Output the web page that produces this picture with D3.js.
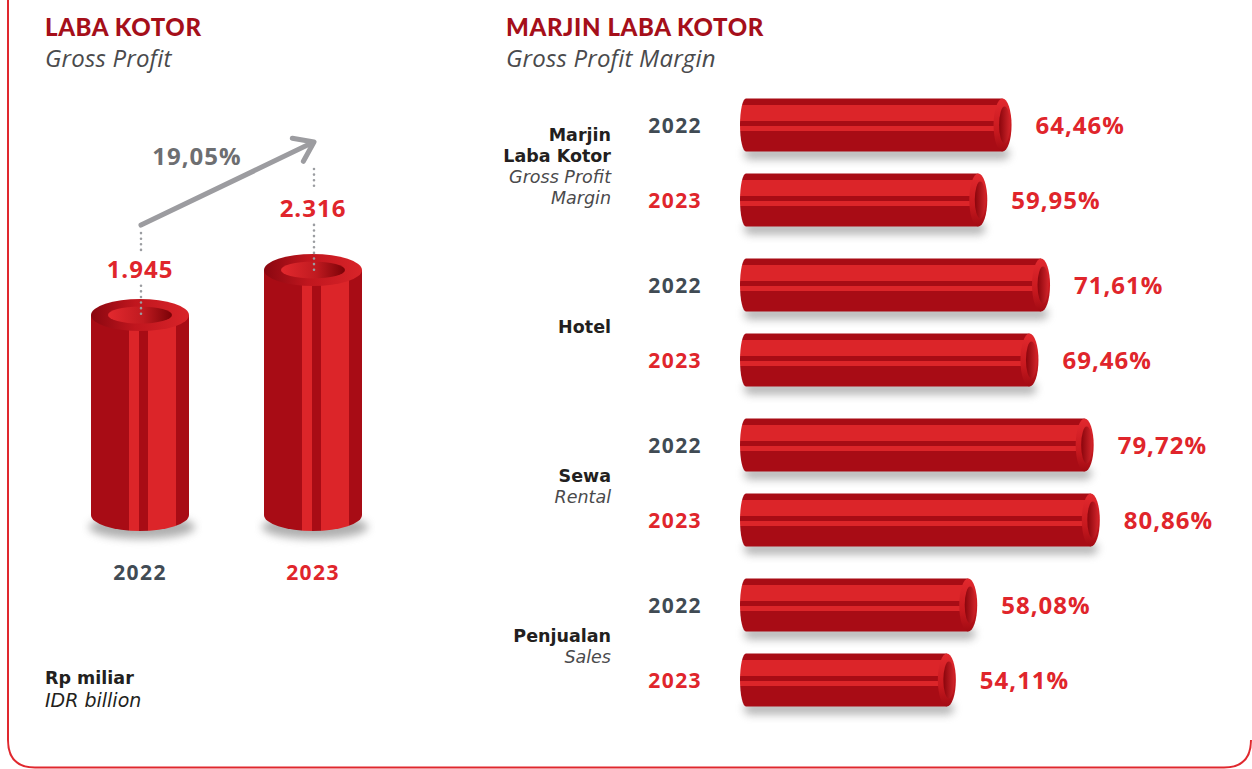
<!DOCTYPE html>
<html>
<head>
<meta charset="utf-8">
<script src="https://cdn.jsdelivr.net/npm/d3@7/dist/d3.min.js"></script>
<style>
  html, body { margin: 0; padding: 0; background: #fff; }
  svg { display: block; }
</style>
</head>
<body>
<svg id="chart" width="1252" height="769"></svg>
<script>
// ---- Data -------------------------------------------------------------
const profitYears = ["2022", "2023"];
const profitValues = [1945, 2316];          // Rp miliar
const profitGrowth = 19.05;                 // %

const marginCategories = ["Marjin Laba Kotor", "Hotel", "Sewa", "Penjualan"];
const marginCategoryBold = [["Marjin", "Laba Kotor"], ["Hotel"], ["Sewa"], ["Penjualan"]];
const marginCategoryItalic = [["Gross Profit", "Margin"], [], ["Rental"], ["Sales"]];
const marginYears = ["2022", "2023"];
const margin2022 = [64.46, 71.61, 79.72, 58.08];
const margin2023 = [59.95, 69.46, 80.86, 54.11];

// ---- Formatting (Indonesian style numbers) ----------------------------
const idLocale = d3.formatLocale({ decimal: ",", thousands: ".", grouping: [3], currency: ["Rp", ""] });
const fmtInt = idLocale.format(",.0f");
const fmtPct = v => idLocale.format(".2f")(v) + "%";

// ---- Palette ----------------------------------------------------------
const C = {
  dark: "#a80c15",
  light: "#dc2529",
  title: "#a50f1a",
  red: "#e0252b",
  gray: "#414b54",
  text: "#231f20",
  italic: "#4a4a4c",
  arrow: "#9c9ca0",
  dots: "#9b9da1",
  frame: "#e0282e"
};
const SANS = "Open Sans";
const HEAD = "Lato";
const LABEL = "DejaVu Sans";

const svg = d3.select("#chart");
const defs = svg.append("defs");

function stripeGradient(id, horizontal, stops) {
  const g = defs.append("linearGradient").attr("id", id)
    .attr("x1", 0).attr("y1", 0)
    .attr("x2", horizontal ? 1 : 0).attr("y2", horizontal ? 0 : 1);
  stops.forEach(([o, c]) => g.append("stop").attr("offset", o).attr("stop-color", c));
}
function hardStops(bands) {
  const out = [];
  bands.forEach(([a, b, c]) => { out.push([a, c]); out.push([b, c]); });
  return out;
}
// vertical cylinder body: bands across the width
stripeGradient("bodyV", true, hardStops([
  [0, 0.39, C.dark], [0.39, 0.49, C.light], [0.49, 0.58, C.dark],
  [0.58, 0.87, C.light], [0.87, 1, C.dark]
]));
// horizontal cylinder body: bands across the height
stripeGradient("bodyH", false, hardStops([
  [0, 0.12, C.dark], [0.12, 0.43, C.light], [0.43, 0.52, C.dark],
  [0.52, 0.61, C.light], [0.61, 1, C.dark]
]));
stripeGradient("rimV", true, [[0, "#8a0710"], [0.45, "#c0161e"], [1, "#d92429"]]);
stripeGradient("holeV", true, [[0, "#e3292e"], [0.55, "#c01a20"], [1, "#7a0207"]]);
stripeGradient("rimH", false, [[0, "#e2292e"], [0.6, "#c8191f"], [1, "#a20b13"]]);
stripeGradient("holeH", true, [[0, "#8a050c"], [1, "#d0242a"]]);

const blur = defs.append("filter").attr("id", "soft")
  .attr("x", "-20%").attr("y", "-100%").attr("width", "140%").attr("height", "300%");
blur.append("feGaussianBlur").attr("stdDeviation", 4);

// ---- Frame ------------------------------------------------------------
svg.append("path")
  .attr("d", "M8,0 V740 Q8,767.5 35,767.5 H1224 Q1251,767.5 1251,740")
  .attr("fill", "none").attr("stroke", C.frame).attr("stroke-width", 2);

// ---- Titles -----------------------------------------------------------
function title(x, main, sub) {
  svg.append("text").attr("x", x).attr("y", 36)
    .attr("font-family", HEAD).attr("font-weight", 900).attr("font-size", 24)
    .attr("letter-spacing", 0.6)
    .attr("fill", C.title).text(main);
  svg.append("text").attr("x", x).attr("y", 67)
    .attr("font-family", SANS).attr("font-style", "italic").attr("font-size", 24)
    .attr("letter-spacing", 0.2)
    .attr("fill", C.italic).text(sub);
}
title(45, "LABA KOTOR", "Gross Profit");
title(506, "MARJIN LABA KOTOR", "Gross Profit Margin");

// ---- Left: gross profit cylinders -------------------------------------
const xp = d3.scalePoint().domain(profitYears).range([140, 313]);
const yp = d3.scaleLinear().domain([300, 2316]).range([515, 270]);
const cylW = 98, cylRy = 16;
const base = yp.range()[0];

// growth arrow anchors, tied to the bar tops
const arrowY = (v, i) => yp(v) - (i === 0 ? 90 : 128);

const cyl = svg.append("g").selectAll("g")
  .data(profitYears.map((y, i) => ({ year: y, value: profitValues[i], i })))
  .join("g");

cyl.append("ellipse")
  .attr("cx", d => xp(d.year) + 2).attr("cy", base + 12)
  .attr("rx", cylW / 2 + 4).attr("ry", 12)
  .attr("fill", "#7a7a7a").attr("opacity", 0.6).attr("filter", "url(#soft)");

cyl.append("path")
  .attr("d", d => {
    const cx = xp(d.year), r = cylW / 2, top = yp(d.value);
    return `M${cx - r},${top} V${base} A${r},${cylRy} 0 0 0 ${cx + r},${base} V${top} Z`;
  })
  .attr("fill", "url(#bodyV)");

cyl.append("ellipse")
  .attr("cx", d => xp(d.year)).attr("cy", d => yp(d.value))
  .attr("rx", cylW / 2).attr("ry", cylRy).attr("fill", "url(#rimV)");

cyl.append("ellipse")
  .attr("cx", d => xp(d.year)).attr("cy", d => yp(d.value))
  .attr("rx", 32).attr("ry", 8.5).attr("fill", "url(#holeV)");

// value label sits between the arrow end and the bar top
const labelY = d => arrowY(d.value, d.i) + 0.585 * (yp(d.value) - arrowY(d.value, d.i));

const dotted = sel => sel.attr("stroke", C.dots).attr("stroke-width", 2.6)
  .attr("stroke-linecap", "round").attr("stroke-dasharray", "0 5.6");

cyl.append("line")
  .attr("x1", d => xp(d.year) + 1).attr("x2", d => xp(d.year) + 1)
  .attr("y1", d => labelY(d) + 8).attr("y2", d => yp(d.value) + 2)
  .call(dotted);
cyl.append("line")
  .attr("x1", d => xp(d.year) + 1).attr("x2", d => xp(d.year) + 1)
  .attr("y1", d => arrowY(d.value, d.i) + (d.i === 0 ? 8 : 27)).attr("y2", d => labelY(d) - 26)
  .call(dotted);

cyl.append("text")
  .attr("x", d => xp(d.year)).attr("y", labelY)
  .attr("text-anchor", "middle")
  .attr("font-family", SANS).attr("font-weight", 700).attr("font-size", 24)
  .attr("letter-spacing", 1)
  .attr("fill", C.red).text(d => fmtInt(d.value));

cyl.append("text")
  .attr("x", d => xp(d.year)).attr("y", 580)
  .attr("text-anchor", "middle")
  .attr("font-family", SANS).attr("font-weight", 700).attr("font-size", 21)
  .attr("letter-spacing", 1.4)
  .attr("fill", d => d.i === 0 ? C.gray : C.red).text(d => d.year);

// growth arrow between the two bars
{
  const x1 = xp(profitYears[0]) + 1, y1 = arrowY(profitValues[0], 0);
  const x2 = xp(profitYears[1]) + 1, y2 = arrowY(profitValues[1], 1);
  const ang = Math.atan2(y2 - y1, x2 - x1);
  const L = 22, spread = 0.62;
  const head = [
    [x2 - L * Math.cos(ang - spread), y2 - L * Math.sin(ang - spread)],
    [x2, y2],
    [x2 - L * Math.cos(ang + spread), y2 - L * Math.sin(ang + spread)]
  ];
  const g = svg.append("g").attr("stroke", C.arrow).attr("stroke-width", 5)
    .attr("stroke-linecap", "round").attr("stroke-linejoin", "round").attr("fill", "none");
  g.append("line").attr("x1", x1).attr("y1", y1).attr("x2", x2 - 2 * Math.cos(ang)).attr("y2", y2 - 2 * Math.sin(ang));
  g.append("path").attr("d", d3.line()(head));
  svg.append("text").attr("x", 197).attr("y", 165).attr("text-anchor", "middle")
    .attr("font-family", SANS).attr("font-weight", 700).attr("font-size", 24)
    .attr("letter-spacing", 1)
    .attr("fill", "#6d6e71").text(fmtPct(profitGrowth));
}

// unit note
svg.append("text").attr("x", 45).attr("y", 684)
  .attr("font-family", LABEL).attr("font-weight", 700).attr("font-size", 17.5)
  .attr("fill", C.text).text("Rp miliar");
svg.append("text").attr("x", 45).attr("y", 707)
  .attr("font-family", LABEL).attr("font-style", "italic").attr("font-size", 19)
  .attr("fill", C.text).text("IDR billion");

// ---- Right: gross profit margin tubes ---------------------------------
const yg = d3.scaleBand().domain(marginCategories).range([85, 725]);
const yr = d3.scalePoint().domain(marginYears).range([40, 115]);
const xm = d3.scaleLinear().domain([14, 90]).range([740, 1149]);
const tubeH = 53, capRx = 9, x0 = xm.range()[0];

const rows = [];
marginCategories.forEach((c, i) => {
  rows.push({ cat: c, year: "2022", value: margin2022[i] });
  rows.push({ cat: c, year: "2023", value: margin2023[i] });
});
const cy = d => yg(d.cat) + yr(d.year);

const tube = svg.append("g").selectAll("g").data(rows).join("g");

tube.append("rect")
  .attr("x", x0 + 4).attr("y", d => cy(d) + tubeH / 2 - 4)
  .attr("width", d => xm(d.value) - x0 - 6).attr("height", 12).attr("rx", 6)
  .attr("fill", "#7a7a7a").attr("opacity", 0.55).attr("filter", "url(#soft)");

tube.append("path")
  .attr("d", d => {
    const c = cy(d), t = c - tubeH / 2, b = c + tubeH / 2, xe = xm(d.value) - capRx;
    return `M${xe},${t} H${x0 + 6} A6,${tubeH / 2} 0 0 0 ${x0 + 6},${b} H${xe} Z`;
  })
  .attr("fill", "url(#bodyH)");

tube.append("ellipse")
  .attr("cx", d => xm(d.value) - capRx).attr("cy", cy)
  .attr("rx", capRx).attr("ry", tubeH / 2).attr("fill", "url(#rimH)");

tube.append("ellipse")
  .attr("cx", d => xm(d.value) - capRx + 2).attr("cy", cy)
  .attr("rx", 5.5).attr("ry", tubeH / 2 - 8).attr("fill", "url(#holeH)");

tube.append("text")
  .attr("x", d => xm(d.value) + 24).attr("y", d => cy(d) + 9)
  .attr("font-family", SANS).attr("font-weight", 700).attr("font-size", 24)
  .attr("letter-spacing", 1)
  .attr("fill", C.red).text(d => fmtPct(d.value));

tube.append("text")
  .attr("x", 702).attr("y", d => cy(d) + 8).attr("text-anchor", "end")
  .attr("font-family", SANS).attr("font-weight", 700).attr("font-size", 21)
  .attr("letter-spacing", 1.4)
  .attr("fill", d => d.year === "2022" ? C.gray : C.red).text(d => d.year);

// category labels, right aligned and centred on each pair of tubes
marginCategories.forEach((c, i) => {
  const lines = marginCategoryBold[i].map(t => ({ t, bold: true }))
    .concat(marginCategoryItalic[i].map(t => ({ t, bold: false })));
  const mid = yg(c) + yg.bandwidth() / 2 + 7.5;
  const lh = 21.3;
  svg.append("g").selectAll("text").data(lines).join("text")
    .attr("x", 611).attr("y", (d, j) => mid + (j - (lines.length - 1) / 2) * lh)
    .attr("text-anchor", "end")
    .attr("font-family", LABEL).attr("font-size", 17.5)
    .attr("font-weight", d => d.bold ? 700 : 400)
    .attr("font-style", d => d.bold ? "normal" : "italic")
    .attr("fill", d => d.bold ? C.text : C.italic)
    .text(d => d.t);
});
</script>
</body>
</html>
